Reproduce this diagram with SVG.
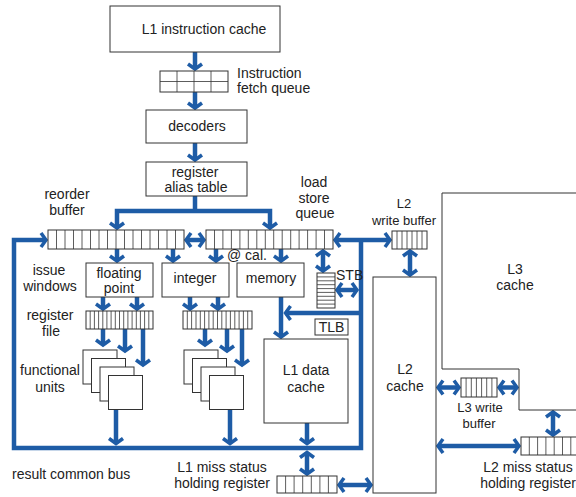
<svg xmlns="http://www.w3.org/2000/svg" width="576" height="497" viewBox="0 0 576 497">
<style>
.box{fill:#fff;stroke:#333;stroke-width:1}
.grid{fill:none;stroke:#333;stroke-width:0.8}
.c{fill:none;stroke:#1e5ca6;stroke-width:4.5;stroke-linejoin:miter}
.a{marker-end:url(#ah)}
.st{marker-start:url(#ah)}
.d{marker-start:url(#ah);marker-end:url(#ah)}
text{font-family:"Liberation Sans",Arial,sans-serif;font-size:14px;fill:#222}
.m{text-anchor:middle}
.s{font-size:13px}
</style>
<defs>
<marker id="ah" viewBox="-10 -10 20 20" markerWidth="20" markerHeight="20" refX="0" refY="0" orient="auto-start-reverse" markerUnits="userSpaceOnUse">
<path d="M-5,-7 L0,0 L-5,7" fill="none" stroke="#1e5ca6" stroke-width="3.5" stroke-linejoin="miter"/>
</marker>
</defs>

<g id="connectors">
<path class="c a" d="M195,52 V69"/>
<path class="c a" d="M195,92 V108"/>
<path class="c a" d="M195,143 V160"/>
<path class="c" d="M195,196 V211"/>
<path class="c d" d="M117,228 V211 H270 V228"/>
<path class="c st" d="M46,240 H14 V448 H361 V240"/>
<path class="c d" d="M335,240 H390"/>
<path class="c d" d="M186,240 H204"/>
<path class="c a" d="M117,249 V261"/>
<path class="c a" d="M173,249 V261"/>
<path class="c a" d="M216,249 V261"/>
<path class="c a" d="M281,249 V261"/>
<path class="c d" d="M323,251 V271"/>
<path class="c d" d="M337,290 H357"/>
<path class="c a" d="M361,313 H285.5"/>
<path class="c a" d="M281,297 V337"/>
<path class="c a" d="M307,423 V443.5"/>
<path class="c a" d="M103,297 V309"/>
<path class="c a" d="M137,297 V309"/>
<path class="c a" d="M190,297 V309"/>
<path class="c a" d="M218,297 V309"/>
<path class="c a" d="M103,329 V345"/>
<path class="c a" d="M125,329 V351"/>
<path class="c a" d="M143,329 V365"/>
<path class="c a" d="M205,329 V345"/>
<path class="c a" d="M227,329 V351"/>
<path class="c a" d="M242,329 V365"/>
<path class="c a" d="M116,409.5 V443.5"/>
<path class="c a" d="M230,409.5 V443.5"/>
<path class="c d" d="M307,452.5 V474"/>
<path class="c d" d="M339,485 H371"/>
<path class="c d" d="M410,251 V275"/>
<path class="c d" d="M438,387.5 H459"/>
<path class="c d" d="M499,387.5 H517"/>
<path class="c d" d="M438,446 H519"/>
<path class="c d" d="M553,412 V435"/>
</g>

<g id="l1-icache"><rect class="box" x="110" y="6" width="170" height="46"/><text class="m" x="204" y="34">L1 instruction cache</text></g>

<g id="fetch-queue">
<rect class="box" x="160" y="71" width="68" height="21"/>
<path class="grid" d="M177,71 V92 M194,71 V92 M211,71 V92 M160,81.5 H228"/>
<text x="237" y="77.5">Instruction</text><text x="237" y="93">fetch queue</text>
</g>

<g id="decoders"><rect class="box" x="146" y="110" width="101" height="33"/><text class="m" x="197" y="131">decoders</text></g>

<g id="rat"><rect class="box" x="146" y="162" width="101" height="34"/><text class="m" x="195" y="177">register</text><text class="m" x="196" y="192">alias table</text></g>

<g id="rob">
<rect class="box" x="48" y="230" width="136" height="19"/>
<path class="grid" d="M56.5,230V249M65,230V249M73.5,230V249M82,230V249M90.5,230V249M99,230V249M107.5,230V249M116,230V249M124.5,230V249M133,230V249M141.5,230V249M150,230V249M158.5,230V249M167,230V249M175.5,230V249"/>
<text class="m" x="67" y="199">reorder</text><text class="m" x="67" y="215">buffer</text>
</g>

<g id="lsq">
<rect class="box" x="206" y="230" width="127" height="19"/>
<path class="grid" d="M214.5,230V249M222.9,230V249M231.4,230V249M239.9,230V249M248.3,230V249M256.8,230V249M265.3,230V249M273.7,230V249M282.2,230V249M290.7,230V249M299.1,230V249M307.6,230V249M316.1,230V249M324.5,230V249"/>
<text class="m" x="314" y="187">load</text><text class="m" x="314" y="203">store</text><text class="m" x="315" y="218">queue</text>
</g>

<g id="l2-write-buffer">
<rect class="box" x="392" y="231" width="35" height="18"/>
<path class="grid" d="M397,231V249M402,231V249M407,231V249M412,231V249M417,231V249M422,231V249"/>
<text class="m s" x="404" y="208">L2</text><text class="m s" x="404" y="225">write buffer</text>
</g>

<g id="l3-cache">
<path class="box" d="M580,193 H442 V369 H519 V410 H580"/>
<text class="m" x="515" y="274">L3</text><text class="m" x="515" y="290">cache</text>
</g>

<g id="issue-windows-label"><text class="m" x="49" y="275">issue</text><text class="m" x="50" y="291">windows</text></g>

<g id="floating-point"><rect class="box" x="86" y="263" width="67" height="34"/><text class="m" x="119" y="278">floating</text><text class="m" x="119" y="293">point</text></g>

<g id="integer"><rect class="box" x="162" y="263" width="67" height="34"/><text class="m" x="195" y="283">integer</text></g>

<g id="memory"><rect class="box" x="237" y="263" width="67" height="34"/><text class="m" x="271" y="283">memory</text><text x="227" y="260">@ cal.</text></g>

<g id="stb">
<rect class="box" x="317" y="273" width="18" height="35"/>
<path class="grid" d="M317,276.9H335M317,280.8H335M317,284.7H335M317,288.6H335M317,292.4H335M317,296.3H335M317,300.2H335M317,304.1H335"/>
<text x="336" y="280">STB</text>
</g>

<g id="tlb"><rect class="box" x="315" y="319" width="33" height="16"/><text class="m" x="331.5" y="332">TLB</text></g>

<g id="fp-regfile">
<rect class="box" x="86" y="311" width="67" height="18"/>
<path class="grid" d="M90.2,311V329M94.4,311V329M98.6,311V329M102.8,311V329M106.9,311V329M111.1,311V329M115.3,311V329M119.5,311V329M123.7,311V329M127.9,311V329M132.1,311V329M136.3,311V329M140.4,311V329M144.6,311V329M148.8,311V329"/>
<text class="m" x="50" y="320">register</text><text class="m" x="51" y="336">file</text>
</g>

<g id="int-regfile">
<rect class="box" x="183" y="311" width="69" height="18"/>
<path class="grid" d="M187.3,311V329M191.6,311V329M196,311V329M200.3,311V329M204.6,311V329M208.9,311V329M213.2,311V329M217.5,311V329M221.8,311V329M226.1,311V329M230.4,311V329M234.8,311V329M239.1,311V329M243.4,311V329M247.7,311V329"/>
</g>

<g id="fp-units">
<rect class="box" x="83" y="350" width="34" height="34"/>
<rect class="box" x="91.5" y="358.5" width="34" height="34"/>
<rect class="box" x="100" y="367" width="34" height="34"/>
<rect class="box" x="108.5" y="375.5" width="34" height="34"/>
<text class="m" x="50" y="375">functional</text><text class="m" x="50" y="392">units</text>
</g>

<g id="int-units">
<rect class="box" x="184" y="350" width="34" height="34"/>
<rect class="box" x="192.5" y="358.5" width="34" height="34"/>
<rect class="box" x="201" y="367" width="34" height="34"/>
<rect class="box" x="209.5" y="375.5" width="34" height="34"/>
</g>

<g id="l1-dcache"><rect class="box" x="264" y="339" width="84" height="84"/><text class="m" x="306" y="375">L1 data</text><text class="m" x="306" y="392">cache</text></g>

<g id="l2-cache"><rect class="box" x="373" y="277" width="63" height="216"/><text class="m" x="405" y="374">L2</text><text class="m" x="405" y="391">cache</text></g>

<g id="l3-write-buffer">
<rect class="box" x="461" y="378" width="36" height="19"/>
<path class="grid" d="M466.1,378V397M471.3,378V397M476.4,378V397M481.6,378V397M486.7,378V397M491.9,378V397"/>
<text class="m s" x="480" y="412">L3 write</text><text class="m s" x="479" y="428">buffer</text>
</g>

<g id="l2-mshr">
<rect class="box" x="521" y="437" width="60" height="18"/>
<path class="grid" d="M529.3,437V455M537.6,437V455M545.9,437V455M554.2,437V455M562.5,437V455M570.8,437V455"/>
<text class="m" x="528" y="472">L2 miss status</text><text class="m" x="528" y="488">holding register</text>
</g>

<g id="l1-mshr">
<rect class="box" x="277" y="476" width="60" height="17"/>
<path class="grid" d="M285.6,476V493M294.1,476V493M302.7,476V493M311.3,476V493M319.9,476V493M328.4,476V493"/>
<text class="m" x="222" y="472">L1 miss status</text><text class="m" x="222" y="488">holding register</text>
</g>

<g id="bus-label"><text x="12" y="479">result common bus</text></g>
</svg>
